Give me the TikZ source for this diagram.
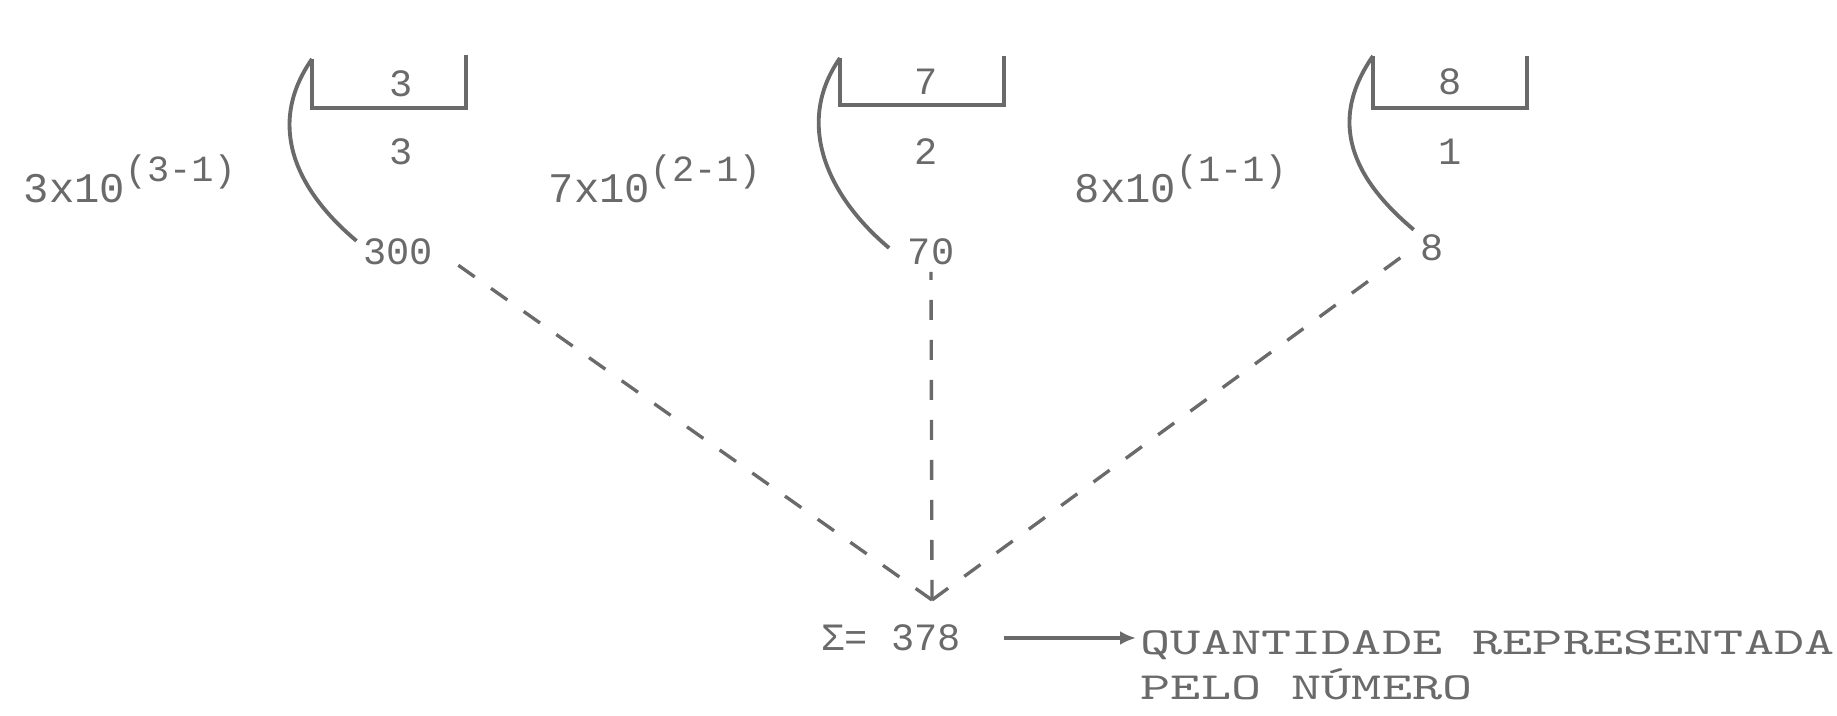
\documentclass[tikz,border=0pt]{standalone}
\usepackage{fontspec}
\usepackage{graphicx}
\usetikzlibrary{arrows.meta}
\newfontfamily\numfont{Liberation Mono}
\newcommand{\capstxt}[1]{\scalebox{1.5}[1]{\fontsize{10.9}{12}\selectfont\ttfamily #1}}
\newcommand{\powtxt}[2]{{\fontsize{12}{13}\selectfont#1\raisebox{0.5em}{\fontsize{10.5}{11}\selectfont#2}}}
\definecolor{ink}{HTML}{6A6A6A}

\begin{document}
\begin{tikzpicture}[x=0.1mm,y=0.1mm,
  every node/.style={text=ink,font=\numfont\fontsize{11}{12}\selectfont,inner sep=0.6mm},
  boxline/.style={draw=ink,line width=1.1pt},
  bendline/.style={draw=ink,line width=1.1pt},
  dashline/.style={draw=ink,line width=0.95pt,dash pattern=on 2mm off 2mm}]
  \useasboundingbox (0,0) rectangle (1837,716);

  \coordinate (c1) at (312,657);
  \coordinate (c2) at (840,658);
  \coordinate (c3) at (1373,660);
  \draw[boxline] (c1) |- (466,608) -- (466,661);
  \draw[boxline] (c2) |- (1004,611) -- (1004,660);
  \draw[boxline] (c3) |- (1527,608) -- (1527,660);

  \node (d1) at (401,632) {3};
  \node (d2) at (926,634) {7};
  \node (d3) at (1450,634) {8};
  \node (p1) at (401,564) {3};
  \node (p2) at (926,564) {2};
  \node (p3) at (1450,564) {1};

  \node[anchor=base west] (e1) at (17,513) {\powtxt{3x10}{(3-1)}};
  \node[anchor=base west] (e2) at (542,513) {\powtxt{7x10}{(2-1)}};
  \node[anchor=base west] (e3) at (1068,513) {\powtxt{8x10}{(1-1)}};

  \node (v1) at (398,464) {300};
  \node (v2) at (931,464) {70};
  \node (v3) at (1432,468) {8};

  \draw[bendline] (c1) .. controls +(235:80) and +(140:80) .. (v1.165);
  \draw[bendline] (c2) .. controls +(235:80) and +(140:80) .. ([shift={(-12,4)}]v2.west);
  \draw[bendline] (c3) .. controls +(235:80) and +(140:80) .. (v3.135);

  \coordinate (tip) at (932,116);
  \draw[dashline,shorten >=2mm] (tip) -- (v1.east);
  \draw[dashline] (tip) -- (v2.south);
  \draw[dashline,shorten >=0.6mm] (tip) -- (v3.west);

  \node[anchor=west] (sum) at (815,78) {Σ= 378};
  \node[anchor=base west,inner sep=0pt] (q1) at (1140,61) {\capstxt{QUANTIDADE REPRESENTADA}};
  \node[anchor=base west,inner sep=0pt] (q2) at (1140,16) {\capstxt{PELO NÚMERO}};
  \draw[ink,line width=1.1pt,-{Latex[length=1.6mm,width=1.4mm]},shorten <=3.6mm,shorten >=0.4mm]
    (sum.east) -- (sum.east -| q1.west);
\end{tikzpicture}
\end{document}
